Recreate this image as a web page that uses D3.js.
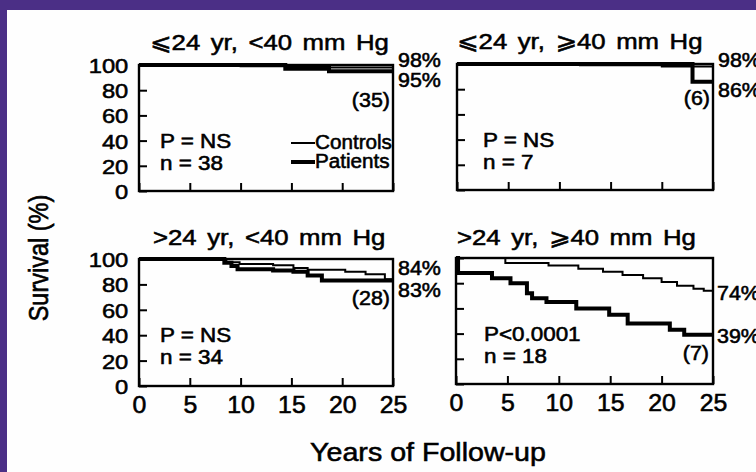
<!DOCTYPE html>
<html>
<head>
<meta charset="utf-8">
<script src="https://cdn.jsdelivr.net/npm/d3@7"></script>
<style>
  html, body { margin: 0; padding: 0; background: #4b2f86; }
  svg { display: block; }
  text { font-family: "Liberation Sans", Arial, Helvetica, "DejaVu Sans", sans-serif; fill: #000; stroke: #000; stroke-width: 0.55px; }
</style>
</head>
<body>
<svg id="chart" width="756" height="472"></svg>
<script>
// ---- data ----
const yearTicks = [0, 5, 10, 15, 20, 25];
const survivalTicks = [0, 20, 40, 60, 80, 100];
const panelTitles = ["⩽24 yr, <40 mm Hg", "⩽24 yr, ⩾40 mm Hg", ">24 yr, <40 mm Hg", ">24 yr, ⩾40 mm Hg"];
const pValues = ["P = NS", "P = NS", "P = NS", "P<0.0001"];
const nValues = ["n = 38", "n = 7", "n = 34", "n = 18"];
const survivors = ["(35)", "(6)", "(28)", "(7)"];

// Kaplan-Meier steps: [years, survival %]
const controlsA = [[0, 100], [10, 99], [18.8, 98]];
const patientsA = [[0, 100], [14.4, 97], [18.7, 95]];
const controlsB = [[0, 100], [12, 99], [20, 98]];
const patientsB = [[0, 100], [23, 86]];
const controlsC = [[0, 100], [8.6, 97.5], [9.9, 96], [13.2, 95], [15.2, 93], [16.6, 91.5], [20.3, 90], [22.3, 88], [24.2, 84]];
const patientsC = [[0, 100], [8.4, 97], [9.1, 94.5], [9.7, 92], [13.2, 91], [15.2, 90], [16.6, 87], [18, 83]];
const controlsD = [[0, 100], [4.8, 96], [9, 94], [11.9, 91.5], [14.3, 89], [16.2, 86.5], [18.2, 84], [20, 81], [21.5, 78], [23.1, 75.5], [24.1, 74]];
const patientsD = [[0, 100], [0.2, 88], [3.5, 84], [5.3, 80], [6.9, 72], [7.4, 68], [8.8, 65], [11.7, 60], [14.9, 55], [16.7, 48], [20.8, 43], [22.2, 39]];

// end-of-follow-up percentages shown at the right of each panel
const endControls = [98, 98, 84, 74];
const endPatients = [95, 86, 83, 39];

// ---- layout ----
const panels = [
  { x: 139, y: 65,  w: 254, h: 126, col: 0, row: 0, titleX: 150, titleY: 50, pX: 160, cX: 390, cY: 107,
    ctl: controlsA, pat: patientsA, lblC: [398, 67], lblP: [398, 87] },
  { x: 457, y: 64,  w: 256, h: 126, col: 1, row: 0, titleX: 457, titleY: 49, pX: 483, cX: 710, cY: 105,
    ctl: controlsB, pat: patientsB, lblC: [718, 67], lblP: [718, 97] },
  { x: 139, y: 259, w: 254, h: 127, col: 0, row: 1, titleX: 153, titleY: 245, pX: 160, cX: 390, cY: 305,
    ctl: controlsC, pat: patientsC, lblC: [398, 275], lblP: [398, 297] },
  { x: 456, y: 258, w: 257, h: 126, col: 1, row: 1, titleX: 457, titleY: 245, pX: 484, cX: 709, cY: 360,
    ctl: controlsD, pat: patientsD, lblC: [717, 300], lblP: [717, 343] }
];

const svg = d3.select("#chart");

// paper area
svg.append("rect").attr("x", 7).attr("y", 10).attr("width", 749).attr("height", 462).attr("fill", "#fefefe");

function stretchedText(g, str, x, y, size, sx, anchor) {
  return g.append("text")
    .attr("transform", `translate(${x},${y}) scale(${sx},1)`)
    .attr("font-size", size)
    .attr("text-anchor", anchor || "start")
    .text(str);
}

panels.forEach((p, i) => {
  const g = svg.append("g");
  const x = d3.scaleLinear().domain([0, 25]).range([p.x, p.x + p.w]);
  const y = d3.scaleLinear().domain([0, 100]).range([p.y + p.h, p.y]);

  // title
  stretchedText(g, panelTitles[i], p.titleX, p.titleY, 23, 1.12).attr("word-spacing", 3);

  // ticks (inward)
  const yAxis = g.append("g").attr("transform", `translate(${p.x},0)`)
    .call(d3.axisLeft(y).tickValues(survivalTicks).tickSize(-8).tickPadding(9.5)
      .tickFormat(p.col === 0 ? d3.format("d") : () => ""));
  const xAxis = g.append("g").attr("transform", `translate(0,${p.y + p.h})`)
    .call(d3.axisBottom(x).tickValues(yearTicks).tickSize(-8).tickPadding(9)
      .tickFormat(p.row === 1 ? d3.format("d") : () => ""));
  [yAxis, xAxis].forEach(a => {
    a.select(".domain").remove();
    a.selectAll(".tick line").attr("stroke", "#000").attr("stroke-width", 2);
    a.selectAll("text").attr("font-family", null);
  });
  yAxis.selectAll("text").attr("font-size", 21).attr("fill", "#000")
    .attr("transform", "scale(1.13,1)").attr("dy", "0.36em");
  xAxis.selectAll("text").attr("font-size", 23).attr("fill", "#000")
    .attr("transform", "scale(1.08,1)").attr("dy", "0.78em").attr("x", 0);

  // survival curves
  const line = d3.line().x(d => x(d[0])).y(d => y(d[1])).curve(d3.curveStepAfter);
  const extend = s => s.concat([[25, s[s.length - 1][1]]]);
  g.append("path").attr("d", line(extend(p.ctl))).attr("fill", "none")
    .attr("stroke", "#000").attr("stroke-width", 2);
  g.append("path").attr("d", line(extend(p.pat))).attr("fill", "none")
    .attr("stroke", "#000").attr("stroke-width", 4);

  // frame
  g.append("rect").attr("x", p.x).attr("y", p.y).attr("width", p.w).attr("height", p.h)
    .attr("fill", "none").attr("stroke", "#000").attr("stroke-width", 2.4);

  // annotations
  stretchedText(g, pValues[i], p.pX, p.y + 83, 19.5, 1.15);
  stretchedText(g, nValues[i], p.pX, p.y + 105, 19.5, 1.15);
  stretchedText(g, survivors[i], p.cX, p.cY, 19.5, 1.1, "end");
  stretchedText(g, endControls[i] + "%", p.lblC[0], p.lblC[1], 19.5, 1.1);
  stretchedText(g, endPatients[i] + "%", p.lblP[0], p.lblP[1], 19.5, 1.1);

  // legend (first panel only)
  if (i === 0) {
    g.append("line").attr("x1", 291).attr("x2", 315).attr("y1", 143).attr("y2", 143)
      .attr("stroke", "#000").attr("stroke-width", 2);
    g.append("line").attr("x1", 291).attr("x2", 315).attr("y1", 162).attr("y2", 162)
      .attr("stroke", "#000").attr("stroke-width", 4);
    stretchedText(g, "Controls", 315, 149, 19.5, 1.06);
    stretchedText(g, "Patients", 315, 168, 19.5, 1.06);
  }
});

// axis titles
svg.append("text")
  .attr("transform", "translate(48,258) rotate(-90) scale(1,1.15)")
  .attr("text-anchor", "middle").attr("font-size", 23.5)
  .text("Survival (%)");
svg.append("text")
  .attr("transform", "translate(428,461) scale(1.1,1)")
  .attr("text-anchor", "middle").attr("font-size", 26)
  .text("Years of Follow-up");
</script>
</body>
</html>
